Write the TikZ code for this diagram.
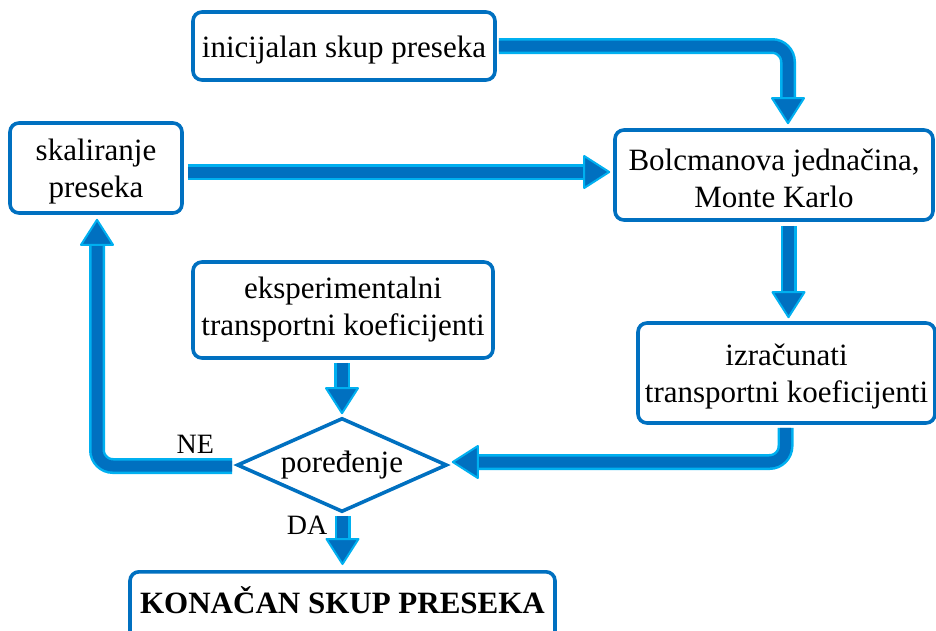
\documentclass[tikz,border=0pt]{standalone}
\usepackage{fontspec}
\setmainfont{Liberation Serif}
\usetikzlibrary{shapes.geometric,calc}
\definecolor{boxblue}{RGB}{0,112,192}
\definecolor{arrdark}{RGB}{0,112,192}
\definecolor{arrlight}{RGB}{0,176,240}
\newcommand{\lowstrut}{\rule{0pt}{29pt}}
\begin{document}
\begin{tikzpicture}[x=1pt,y=-1pt,
  box/.style={draw=boxblue, line width=3.6pt, rounded corners=9pt, fill=white,
    align=center, inner sep=0pt, font=\fontsize{31}{37}\selectfont},
  decision/.style={draw=boxblue, line width=3.6pt, diamond, aspect=2.33,
    inner sep=0pt, font=\fontsize{31}{37}\selectfont},
  lbl/.style={font=\fontsize{28}{30}\selectfont, inner sep=0pt},
  shaft/.style={draw=arrdark, line width=11pt, rounded corners=16pt,
    preaction={draw=arrlight, line width=16pt}},
  ahead/.style={fill=arrdark, draw=arrlight, line width=2pt, line join=round},
  headD/.pic={\filldraw[ahead] (0,0) -- (-16,-25) -- (16,-25) -- cycle;},
  headU/.pic={\filldraw[ahead] (0,0) -- (-16,25) -- (16,25) -- cycle;},
  headR/.pic={\filldraw[ahead] (0,0) -- (-25,-16) -- (-25,16) -- cycle;},
  headL/.pic={\filldraw[ahead] (0,0) -- (25,-16) -- (25,16) -- cycle;}]
\useasboundingbox (0,0) rectangle (936,630);
\clip (0,0) rectangle (936,630);

% boxes
\node[box, minimum width=302pt, minimum height=68pt] (init) at (344,46) {\lowstrut inicijalan skup preseka};
\node[box, minimum width=172pt, minimum height=90pt] (skal) at (96,168) {\lowstrut skaliranje\\preseka};
\node[box, minimum width=318pt, minimum height=90pt] (bol) at (774,175) {\lowstrut Bolcmanova jednačina,\\Monte Karlo};
\node[box, minimum width=297pt, minimum height=100pt] (izr) at (786.5,373) {\lowstrut izračunati\\transportni koeficijenti};
\node[box, minimum width=300pt, minimum height=96pt] (eks) at (343,310) {eksperimentalni\\transportni koeficijenti};
\node[decision, minimum width=210pt, minimum height=94pt] (cmp) at (342,465) {poređenje};
\node[box, anchor=north, minimum width=425pt, text height=22pt, text depth=8pt, inner ysep=20pt,
  font=\fontsize{31}{37}\selectfont\bfseries] (kon) at (342.5,570) {KONAČAN SKUP PRESEKA};

% labels
\node[lbl] (ne) at ($(cmp.west)+(-40,-21)$) {NE};
\node[lbl] (da) at ($(cmp.south)+(-35,11)$) {DA};

% arrow tips and start points
\coordinate (t1) at ($(bol.north)+(14,-5)$);
\coordinate (t2) at ($(bol.west)+(-4,-3)$);
\coordinate (s2) at (skal.east |- t2);
\coordinate (t3) at ($(izr.north)+(2,-4)$);
\coordinate (s3) at (t3 |- bol.south);
\coordinate (t4) at ($(cmp.north)+(0,-3)$);
\coordinate (s4) at (t4 |- eks.south);
\coordinate (t5) at ($(cmp.east)+(4,-3)$);
\coordinate (s5) at ($(izr.south)+(-1,3)$);
\coordinate (t6) at ($(skal.south)+(1,5)$);
\coordinate (t7) at ($(kon.north)+(0,-6)$);
\coordinate (s7) at (t7 |- cmp.south);

% shafts
\draw[shaft] ([xshift=2pt]init.east) -| ($(t1)+(0,-22)$);
\draw[shaft] ([xshift=4pt]s2) -- ($(t2)+(-22,0)$);
\draw[shaft] ([yshift=-4pt]s3) -- ($(t3)+(0,-22)$);
\draw[shaft] ([yshift=-3pt]s4) -- ($(t4)+(0,-22)$);
\draw[shaft] (s5) |- ($(t5)+(22,0)$);
\draw[shaft] ($(cmp.west)+(-3,1)$) -| ($(t6)+(0,22)$);
\draw[shaft] ([yshift=-2pt]s7) -- ($(t7)+(0,-22)$);

% heads
\pic at (t1) {headD};
\pic at (t2) {headR};
\pic at (t3) {headD};
\pic at (t4) {headD};
\pic at (t5) {headL};
\pic at (t6) {headU};
\pic at (t7) {headD};
\end{tikzpicture}
\end{document}
